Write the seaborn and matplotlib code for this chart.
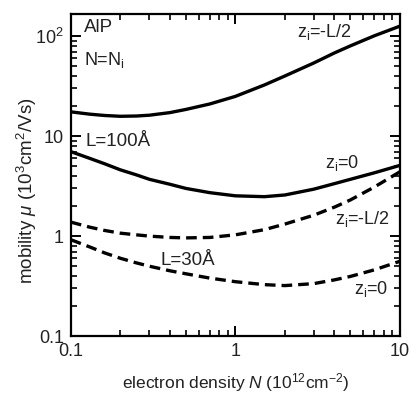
import matplotlib
matplotlib.use("Agg")
import matplotlib.pyplot as plt
import matplotlib.ticker as mticker
import seaborn as sns
import pandas as pd

# electron density N (10^12 cm^-2)
density = [0.1, 0.13, 0.16, 0.2, 0.25, 0.3, 0.4, 0.5, 0.7, 1.0, 1.5, 2.0, 3.0, 4.0, 5.0, 7.0, 10.0]
# mobility (10^3 cm^2/Vs)
mu_L100_edge = [17.5, 16.6, 16.1, 15.8, 15.9, 16.2, 17.2, 18.5, 21.0, 25.0, 32.5, 40.0, 54.0, 68.0, 80.0, 101.0, 126.0]
mu_L100_center = [7.0, 6.0, 5.3, 4.6, 4.1, 3.7, 3.3, 3.0, 2.72, 2.53, 2.48, 2.58, 2.95, 3.35, 3.7, 4.3, 5.1]
mu_L30_edge = [1.38, 1.23, 1.14, 1.07, 1.03, 1.0, 0.97, 0.96, 0.97, 1.03, 1.16, 1.32, 1.62, 1.95, 2.3, 3.1, 4.4]
mu_L30_center = [0.92, 0.78, 0.68, 0.6, 0.54, 0.5, 0.45, 0.42, 0.38, 0.35, 0.327, 0.32, 0.335, 0.365, 0.395, 0.46, 0.56]

series_names = ["L100_edge", "L100_center", "L30_edge", "L30_center"]
series_values = [mu_L100_edge, mu_L100_center, mu_L30_edge, mu_L30_center]

x_ticks = [0.1, 1, 10]
x_ticklabels = ["0.1", "1", "10"]
y_ticks = [0.1, 1, 10, 100]
y_ticklabels = ["0.1", "1", "10", r"10$^2$"]

rows = []
for name, vals in zip(series_names, series_values):
    for n, m in zip(density, vals):
        rows.append({"series": name, "N": n, "mu": m})
df = pd.DataFrame(rows)

sns.set_theme(style="ticks")
plt.rcParams["font.family"] = ["Liberation Sans", "DejaVu Sans"]
plt.rcParams["mathtext.fontset"] = "custom"
plt.rcParams["mathtext.rm"] = "Liberation Sans"
plt.rcParams["mathtext.it"] = "Liberation Sans:italic"
plt.rcParams["mathtext.bf"] = "Liberation Sans:bold"

fig = plt.figure(figsize=(4.17, 3.94), dpi=100)
ax = fig.add_axes([0.170, 0.147, 0.789, 0.817])

styles = {
    "L100_edge": "-",
    "L100_center": "-",
    "L30_edge": (0, (3.2, 1.8)),
    "L30_center": (0, (3.2, 1.8)),
}
for name in series_names:
    sub = df[df["series"] == name]
    sns.lineplot(data=sub, x="N", y="mu", ax=ax, color="black", lw=2.4,
                 linestyle=styles[name], legend=False, estimator=None, sort=True)

ax.set_xscale("log")
ax.set_yscale("log")
ax.set_xlim(0.1, 10)
ax.set_ylim(0.1, 166)

ax.set_xticks(x_ticks)
ax.set_xticklabels(x_ticklabels)
ax.set_yticks(y_ticks)
ax.set_yticklabels(y_ticklabels)
ax.xaxis.set_minor_locator(mticker.LogLocator(base=10, subs=range(2, 10)))
ax.yaxis.set_minor_locator(mticker.LogLocator(base=10, subs=range(2, 10)))
ax.xaxis.set_minor_formatter(mticker.NullFormatter())
ax.yaxis.set_minor_formatter(mticker.NullFormatter())

ax.tick_params(which="both", direction="in", top=True, right=True,
               color="black", labelsize=13, labelcolor="#222222")
ax.tick_params(which="major", length=7, width=1.4, pad=5)
ax.tick_params(which="minor", length=4, width=1.2)
for sp in ax.spines.values():
    sp.set_linewidth(1.6)
    sp.set_color("black")

ax.set_xlabel(r"electron density $N$ (10$^{12}$cm$^{-2}$)", fontsize=12.5, color="#222222")
ax.set_ylabel(r"mobility $\mu$ (10$^3$cm$^2$/Vs)", fontsize=13.5, color="#222222")
ax.xaxis.set_label_coords(0.50, -0.108)
ax.yaxis.set_label_coords(-0.098, 0.45)

txt = dict(color="#222222", transform=ax.transAxes)
def axpos(px, py):
    return ((px - 71) / 329.0, 1 - (py - 14) / 322.0)

ax.text(*axpos(84, 27), "AlP", va="center", ha="left", fontsize=13.5, **txt)
ax.text(*axpos(84, 60), r"N=N$_{\mathrm{i}}$", va="center", ha="left", fontsize=13, **txt)
ax.text(*axpos(86, 141), "L=100Å", va="center", ha="left", fontsize=13.5, **txt)
ax.text(*axpos(161, 260), "L=30Å", va="center", ha="left", fontsize=13.5, **txt)
ax.text(*axpos(297, 32), r"z$_{\mathrm{i}}$=-L/2", va="center", ha="left", fontsize=13, **txt)
ax.text(*axpos(325, 163), r"z$_{\mathrm{i}}$=0", va="center", ha="left", fontsize=13, **txt)
ax.text(*axpos(335, 219), r"z$_{\mathrm{i}}$=-L/2", va="center", ha="left", fontsize=13, **txt)
ax.text(*axpos(354, 289), r"z$_{\mathrm{i}}$=0", va="center", ha="left", fontsize=13, **txt)

fig.savefig("out.png", dpi=100)
